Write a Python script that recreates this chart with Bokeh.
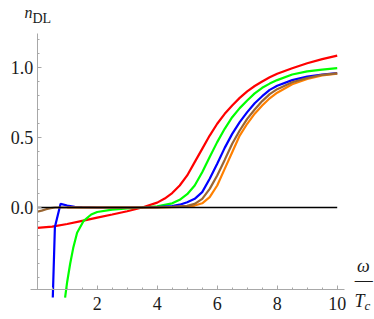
from bokeh.plotting import figure
from bokeh.models import Range1d, FixedTicker, Label
from bokeh.embed import file_html
from bokeh.resources import INLINE

# ---- data ----
red_x = [0.0, 0.5, 1.0, 1.5, 2.0, 2.5, 3.0, 3.5, 4.0, 4.25, 4.5, 4.75, 5.0, 5.25, 5.5, 5.75, 6.0, 6.25, 6.5, 6.75, 7.0, 7.25, 7.5, 7.75, 8.0, 8.5, 9.0, 9.5, 10.0]
red_y = [-0.145, -0.137, -0.118, -0.095, -0.072, -0.050, -0.027, 0.0, 0.035, 0.064, 0.103, 0.157, 0.229, 0.324, 0.419, 0.514, 0.598, 0.669, 0.729, 0.783, 0.83, 0.868, 0.90, 0.93, 0.955, 0.995, 1.03, 1.06, 1.085]

green_x = [0.93, 1.0, 1.1, 1.2, 1.33, 1.55, 1.8, 2.0, 2.5, 3.0, 3.5, 4.0, 4.5, 4.75, 5.0, 5.25, 5.5, 5.75, 6.0, 6.25, 6.5, 6.75, 7.0, 7.25, 7.5, 7.75, 8.0, 8.5, 9.0, 9.5, 10.0]
green_y = [-0.643, -0.53, -0.40, -0.29, -0.18, -0.095, -0.05, -0.032, -0.015, -0.007, 0.0, 0.008, 0.03, 0.055, 0.095, 0.157, 0.252, 0.36, 0.467, 0.562, 0.645, 0.71, 0.764, 0.815, 0.855, 0.885, 0.91, 0.95, 0.972, 0.985, 0.995]

blue_x = [0.52, 0.59, 0.78, 1.0, 1.25, 1.5, 2.0, 3.0, 3.5, 4.0, 4.5, 4.75, 5.0, 5.25, 5.5, 5.75, 6.0, 6.25, 6.5, 6.75, 7.0, 7.25, 7.5, 7.75, 8.0, 8.5, 9.0, 9.5, 10.0]
blue_y = [-0.643, -0.14, 0.026, 0.014, 0.005, 0.002, 0.0, 0.0, 0.0, 0.003, 0.01, 0.02, 0.038, 0.062, 0.11, 0.205, 0.312, 0.426, 0.526, 0.61, 0.681, 0.745, 0.795, 0.84, 0.87, 0.91, 0.935, 0.95, 0.96]

brown_x = [0.0, 0.15, 0.3, 0.45, 0.6, 1.0, 2.0, 3.0, 3.5, 4.0, 4.5, 5.0, 5.25, 5.5, 5.75, 6.0, 6.25, 6.5, 6.75, 7.0, 7.25, 7.5, 7.75, 8.0, 8.5, 9.0, 9.5, 10.0]
brown_y = [-0.03, -0.022, -0.012, -0.004, 0.0, 0.0, 0.0, 0.0, 0.0, 0.0, 0.004, 0.012, 0.026, 0.062, 0.133, 0.229, 0.34, 0.455, 0.55, 0.633, 0.70, 0.76, 0.81, 0.845, 0.895, 0.925, 0.948, 0.958]

orange_x = [1.0, 2.0, 3.0, 3.5, 4.0, 4.5, 5.0, 5.25, 5.5, 5.75, 6.0, 6.25, 6.5, 6.75, 7.0, 7.25, 7.5, 7.75, 8.0, 8.5, 9.0, 9.5, 10.0]
orange_y = [0.0, 0.0, 0.0, 0.0, 0.0, 0.002, 0.006, 0.014, 0.03, 0.074, 0.157, 0.276, 0.395, 0.514, 0.598, 0.67, 0.728, 0.78, 0.82, 0.88, 0.918, 0.943, 0.956]

zero_x = [0.0, 10.0]
zero_y = [0.0, 0.0]

x_major_ticks = [2, 4, 6, 8, 10]
x_minor_ticks = [0.5, 1, 1.5, 2.5, 3, 3.5, 4.5, 5, 5.5, 6.5, 7, 7.5, 8.5, 9, 9.5]
y_major_ticks = [0.0, 0.5, 1.0]
y_tick_labels = ["0.0", "0.5", "1.0"]
y_minor_ticks = [-0.5, -0.4, -0.3, -0.2, -0.1, 0.1, 0.2, 0.3, 0.4, 0.6, 0.7, 0.8, 0.9, 1.1, 1.2]

# ---- figure: frame spans the whole canvas, axes drawn at fixed locations ----
p = figure(width=374, height=319, output_backend="svg", toolbar_location=None,
           x_range=Range1d(-1.2233, 11.2433), y_range=Range1d(-0.80, 1.4786),
           min_border=0)
p.grid.visible = False
p.outline_line_color = None
p.background_fill_color = "white"
p.border_fill_color = "white"

SERIF = "'Liberation Serif'"
TXT = "#1a1a1a"
AX = "#a8a8a8"

p.axis.axis_line_color = AX
p.axis.axis_line_width = 1
p.axis.major_tick_line_color = AX
p.axis.minor_tick_line_color = AX
p.axis.major_tick_in = 4
p.axis.major_tick_out = 0
p.axis.minor_tick_in = 2
p.axis.minor_tick_out = 0
p.axis.major_label_text_font = SERIF
p.axis.major_label_text_font_size = "18px"
p.axis.major_label_text_color = TXT

p.xaxis.ticker = FixedTicker(ticks=x_major_ticks, minor_ticks=x_minor_ticks)
p.xaxis.fixed_location = -0.586
p.xaxis.bounds = (-0.22, 10.24)
p.xaxis.major_label_standoff = 7
p.yaxis.ticker = FixedTicker(ticks=y_major_ticks, minor_ticks=y_minor_ticks)
p.yaxis.major_label_overrides = {t: s for t, s in zip(y_major_ticks, y_tick_labels)}
p.yaxis.fixed_location = 0
p.yaxis.major_label_standoff = 4
p.yaxis.bounds = (-0.586, 1.24)

W = 2.2
p.line(red_x, red_y, line_color="#ff0000", line_width=W)
p.line(green_x, green_y, line_color="#00ff00", line_width=W)
p.line(blue_x, blue_y, line_color="#0000ff", line_width=W)
p.line(orange_x, orange_y, line_color="#ff8000", line_width=W)
p.line(brown_x, brown_y, line_color="#996633", line_width=W)
p.line(zero_x, zero_y, line_color="black", line_width=1.4)

p.add_layout(Label(x=-0.423, y=1.329, text="n", text_font=SERIF, text_font_style="italic",
                   text_font_size="16px", text_color=TXT))
p.add_layout(Label(x=-0.157, y=1.30, text="DL", text_font=SERIF,
                   text_font_size="14px", text_color=TXT))
p.add_layout(Label(x=10.66, y=-0.489, text="ω", text_font=SERIF, text_font_style="italic",
                   text_font_size="18px", text_color=TXT))
p.add_layout(Label(x=10.887, y=-0.588, text="—", text_font=SERIF, text_align="center",
                   text_font_size="18px", text_color=TXT))
p.add_layout(Label(x=10.577, y=-0.736, text="T", text_font=SERIF, text_font_style="italic",
                   text_font_size="18px", text_color=TXT))
p.add_layout(Label(x=10.91, y=-0.75, text="c", text_font=SERIF, text_font_style="italic",
                   text_font_size="13px", text_color=TXT))

open("out.html", "w").write(file_html(p, INLINE))
